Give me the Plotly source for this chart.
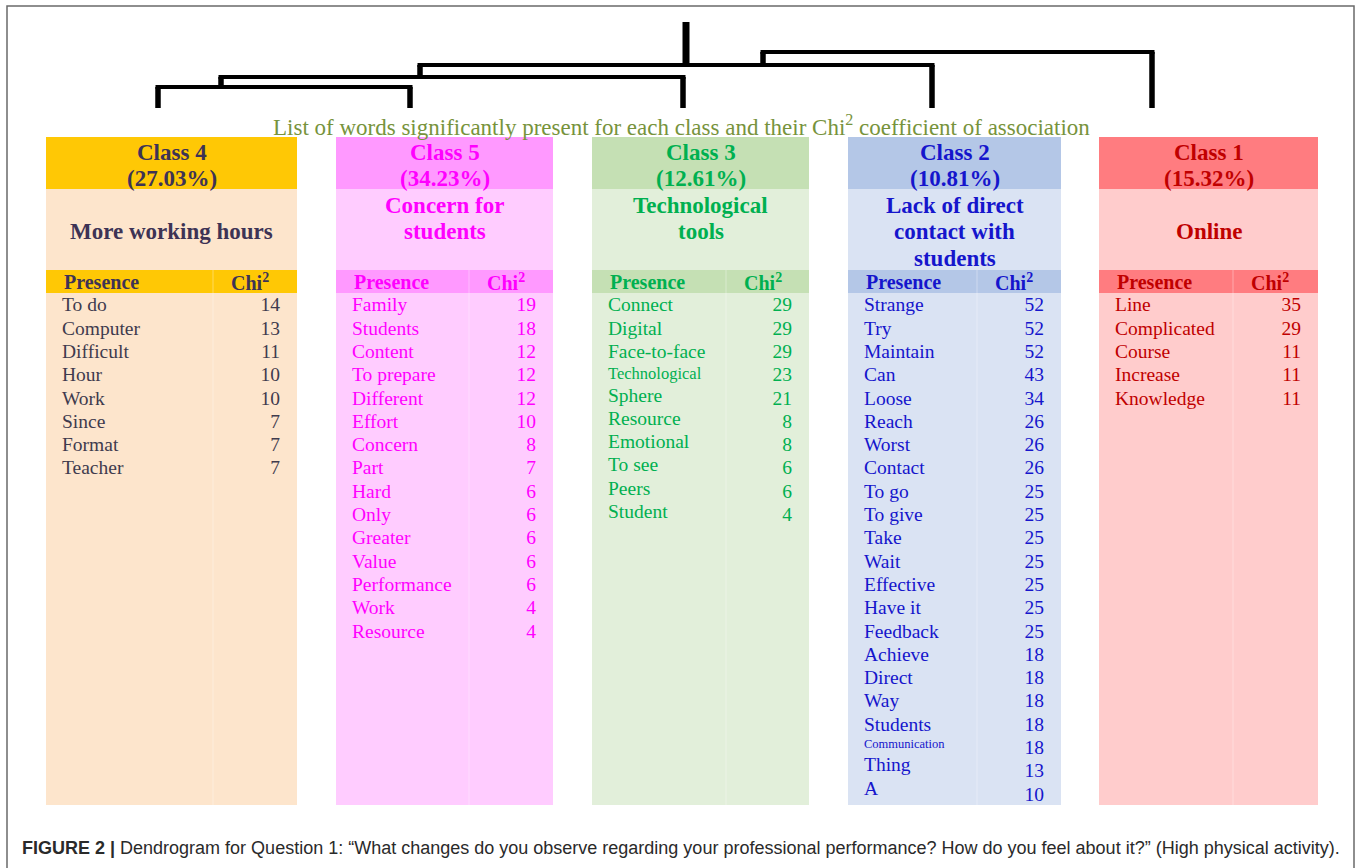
import plotly.graph_objects as go

W, H = 1357, 868

# ---------------- data ----------------
class_names = ["Class 4", "Class 5", "Class 3", "Class 2", "Class 1"]
class_pcts = ["27.03%", "34.23%", "12.61%", "10.81%", "15.32%"]
class_titles = [
    ["More working hours"],
    ["Concern for", "students"],
    ["Technological", "tools"],
    ["Lack of direct", "contact with", "students"],
    ["Online"],
]
words_c4 = ["To do", "Computer", "Difficult", "Hour", "Work", "Since", "Format", "Teacher"]
chi_c4 = [14, 13, 11, 10, 10, 7, 7, 7]
words_c5 = ["Family", "Students", "Content", "To prepare", "Different", "Effort", "Concern", "Part",
            "Hard", "Only", "Greater", "Value", "Performance", "Work", "Resource"]
chi_c5 = [19, 18, 12, 12, 12, 10, 8, 7, 6, 6, 6, 6, 6, 4, 4]
words_c3 = ["Connect", "Digital", "Face-to-face", "Technological", "Sphere", "Resource", "Emotional",
            "To see", "Peers", "Student"]
chi_c3 = [29, 29, 29, 23, 21, 8, 8, 6, 6, 4]
words_c2 = ["Strange", "Try", "Maintain", "Can", "Loose", "Reach", "Worst", "Contact", "To go", "To give",
            "Take", "Wait", "Effective", "Have it", "Feedback", "Achieve", "Direct", "Way", "Students",
            "Communication", "Thing", "A"]
chi_c2 = [52, 52, 52, 43, 34, 26, 26, 26, 25, 25, 25, 25, 25, 25, 25, 18, 18, 18, 18, 18, 13, 10]
words_c1 = ["Line", "Complicated", "Course", "Increase", "Knowledge"]
chi_c1 = [35, 29, 11, 11, 11]

subtitle = "List of words significantly present for each class and their Chi<sup>2</sup> coefficient of association"
caption = ("<b>FIGURE 2 |</b> Dendrogram for Question 1: \u201cWhat changes do you observe regarding your "
           "professional performance? How do you feel about it?\u201d (High physical activity).")

# ---------------- styles / layout ----------------
col_x0 = [46, 336, 592, 848, 1099]
col_x1 = [297, 553, 809, 1061, 1318]
col_sep = [213, 469, 726, 977, 1233]
head_bg = ["#FFC805", "#FF99FF", "#C5E0B4", "#B4C7E7", "#FF7C80"]
body_bg = ["#FDE5CC", "#FFCCFF", "#E2EFDA", "#DAE3F3", "#FFCCCC"]
txt_col = ["#3D3355", "#FF00FF", "#00B050", "#1515CC", "#C00000"]
body_col = ["#3F3B4E", "#FF00FF", "#00B050", "#1515CC", "#C00000"]
all_words = [words_c4, words_c5, words_c3, words_c2, words_c1]
all_chi = [chi_c4, chi_c5, chi_c3, chi_c2, chi_c1]
# small per-word typography quirks of the original
size_override = {(2, "Technological"): 16.5, (3, "Communication"): 12.5}
dy_override = {(2, i): -3 for i in range(4, 10)}
dy_override.update({(2, 3): -2, (3, 19): -4, (3, 20): -6, (3, 21): -6})

SERIF = "Liberation Serif"
HEAD_TOP, HEAD_BOT, SUB_BOT, PRES_BOT, BODY_BOT = 137, 189, 270, 293, 805
ROW0, ROWSTEP = 306.5, 23.3
BODY_SIZE = 19.5
HEAD_SIZE = 23

# dendrogram: leaf x positions and link structure (x_left, bottom_left, x_right, bottom_right, join_y)
leaf_x = [158, 410, 683, 932, 1152]
leaf_bottom = 108
dendro_links = [
    (leaf_x[0], leaf_bottom, leaf_x[1], leaf_bottom, 87),
    (221, 87, leaf_x[2], leaf_bottom, 77),
    (420, 77, leaf_x[3], leaf_bottom, 65),
    (763, 65, leaf_x[4], leaf_bottom, 52),
]
root_stem = (686, 65, 22)

fig = go.Figure()
shapes = []
annotations = []

# frame (bottom edge lies just outside the picture, as in the original crop)
shapes.append(dict(type="rect", x0=7, y0=6, x1=1354, y1=875, line=dict(color="#6a6a6a", width=1.5),
                   fillcolor="rgba(0,0,0,0)", layer="below"))

for i in range(5):
    x0, x1, sep = col_x0[i], col_x1[i], col_sep[i]
    shapes += [
        dict(type="rect", x0=x0, x1=x1, y0=HEAD_TOP, y1=HEAD_BOT, fillcolor=head_bg[i], line_width=0, layer="below"),
        dict(type="rect", x0=x0, x1=x1, y0=HEAD_BOT, y1=SUB_BOT, fillcolor=body_bg[i], line_width=0, layer="below"),
        dict(type="rect", x0=x0, x1=x1, y0=SUB_BOT, y1=PRES_BOT, fillcolor=head_bg[i], line_width=0, layer="below"),
        dict(type="rect", x0=x0, x1=x1, y0=PRES_BOT, y1=BODY_BOT, fillcolor=body_bg[i], line_width=0, layer="below"),
        dict(type="line", x0=sep, x1=sep, y0=SUB_BOT, y1=BODY_BOT, line=dict(color="rgba(255,255,255,0.35)", width=1),
             layer="below"),
    ]
    cx = (x0 + x1) / 2
    c = txt_col[i]
    hf = dict(family=SERIF, size=HEAD_SIZE, color=c)
    annotations.append(dict(x=cx, y=152, text=f"<b>{class_names[i]}</b>", showarrow=False, font=hf,
                            xanchor="center", yanchor="middle"))
    annotations.append(dict(x=cx, y=178, text=f"<b>({class_pcts[i]})</b>", showarrow=False, font=hf,
                            xanchor="center", yanchor="middle"))
    lines = class_titles[i]
    ys = {1: [231], 2: [205, 231], 3: [205, 231.5, 258]}[len(lines)]
    for ln, yy in zip(lines, ys):
        annotations.append(dict(x=cx, y=yy, text=f"<b>{ln}</b>", showarrow=False, font=hf,
                                xanchor="center", yanchor="middle"))
    pf = dict(family=SERIF, size=20, color=c)
    annotations.append(dict(x=x0 + 16, y=282, text="<b>Presence</b>", showarrow=False, font=pf,
                            xanchor="left", yanchor="middle"))
    annotations.append(dict(x=sep + 16, y=282, text="<b>Chi<sup>2</sup></b>", showarrow=False, font=pf,
                            xanchor="left", yanchor="middle"))

    words = all_words[i]
    chis = all_chi[i]
    bc = body_col[i]
    # group words by font size so each trace has one size
    groups = {}
    for k, w in enumerate(words):
        sz = size_override.get((i, w), BODY_SIZE)
        groups.setdefault(sz, ([], []))
        groups[sz][0].append(w)
        groups[sz][1].append(ROW0 + k * ROWSTEP + dy_override.get((i, k), 0))
    for sz, (ws, ys_w) in groups.items():
        fig.add_trace(go.Scatter(x=[x0 + 16] * len(ws), y=ys_w, text=ws, mode="text",
                                 textposition="middle right",
                                 textfont=dict(family=SERIF, size=sz, color=bc),
                                 hoverinfo="skip", showlegend=False))
    ys_num = [ROW0 + k * ROWSTEP for k in range(len(chis))]
    fig.add_trace(go.Scatter(x=[x1 - 17] * len(chis), y=ys_num, text=[str(v) for v in chis], mode="text",
                             textposition="middle left",
                             textfont=dict(family=SERIF, size=BODY_SIZE, color=bc),
                             hoverinfo="skip", showlegend=False))

# dendrogram
hx, hy, vx, vy = [], [], [], []
for (xl, bl, xr, br, yj) in dendro_links:
    hx += [xl - 2.5, xr + 2.5, None]
    hy += [yj, yj, None]
    vx += [xl, xl, None, xr, xr, None]
    vy += [bl, yj, None, br, yj, None]
fig.add_trace(go.Scatter(x=hx, y=hy, mode="lines", line=dict(color="black", width=4),
                         hoverinfo="skip", showlegend=False))
fig.add_trace(go.Scatter(x=vx, y=vy, mode="lines", line=dict(color="black", width=5.5),
                         hoverinfo="skip", showlegend=False))
fig.add_trace(go.Scatter(x=[root_stem[0], root_stem[0]], y=[root_stem[1], root_stem[2]], mode="lines",
                         line=dict(color="black", width=7), hoverinfo="skip", showlegend=False))

annotations.append(dict(x=681, y=125, text=subtitle, showarrow=False,
                        font=dict(family=SERIF, size=23, color="#77933C"), xanchor="center", yanchor="middle"))
annotations.append(dict(x=20, y=848, text=caption, showarrow=False,
                        font=dict(family="Liberation Sans", size=18, color="#2a2a2a"),
                        xanchor="left", yanchor="middle"))

fig.update_layout(
    width=W, height=H, margin=dict(l=0, r=0, t=0, b=0),
    paper_bgcolor="white", plot_bgcolor="white",
    xaxis=dict(range=[0, W], visible=False, fixedrange=True),
    yaxis=dict(range=[H, 0], visible=False, fixedrange=True),
    shapes=shapes, annotations=annotations,
)
fig.write_html("out.html", config={"displayModeBar": False},
               post_script="document.body.style.margin='0';document.body.style.overflow='hidden';")
